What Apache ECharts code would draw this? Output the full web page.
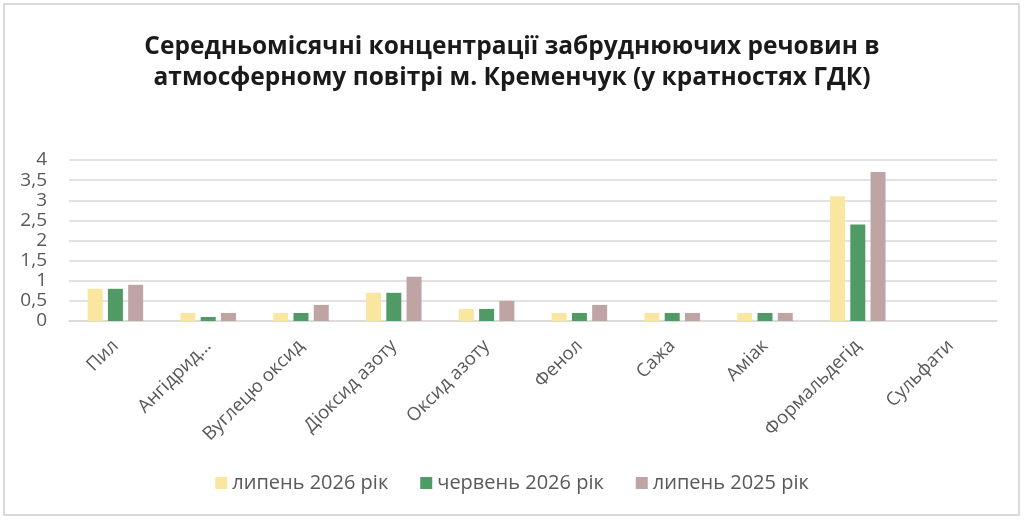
<!DOCTYPE html>
<html>
<head>
<meta charset="utf-8">
<script src="https://cdn.jsdelivr.net/npm/echarts@6/dist/echarts.min.js"></script>
<style>
  html, body { margin: 0; padding: 0; background: #fff; }
  #chart { width: 1024px; height: 520px; }
</style>
</head>
<body>
<div id="chart"></div>
<script>
// categories (pollutants)
var categories = ['Пил', 'Ангідрид…', 'Вуглецю оксид', 'Діоксид азоту', 'Оксид азоту',
  'Фенол', 'Сажа', 'Аміак', 'Формальдегід', 'Сульфати'];

// values in multiples of MPC
var july2026 = [0.8, 0.2, 0.2, 0.7, 0.3, 0.2, 0.2, 0.2, 3.1, 0];
var june2026 = [0.8, 0.1, 0.2, 0.7, 0.3, 0.2, 0.2, 0.2, 2.4, 0];
var july2025 = [0.9, 0.2, 0.4, 1.1, 0.5, 0.4, 0.2, 0.2, 3.7, 0];

var seriesNames = ['липень 2026 рік', 'червень 2026 рік', 'липень 2025 рік'];
var yTicks = ['0', '0,5', '1', '1,5', '2', '2,5', '3', '3,5', '4'];

var chart = echarts.init(document.getElementById('chart'));

function bar(name, data, color) {
  return {
    name: name,
    type: 'bar',
    data: data,
    barWidth: 15,
    barGap: '35%',
    itemStyle: { color: color }
  };
}

var option = {
  backgroundColor: '#fff',
  textStyle: { fontFamily: 'Open Sans' },
  title: {
    text: 'Середньомісячні концентрації забруднюючих речовин в\nатмосферному повітрі м. Кременчук (у кратностях ГДК)',
    left: 'center',
    top: 27,
    textStyle: {
      fontFamily: 'Open Sans',
      fontWeight: 'bold',
      fontSize: 24.5,
      lineHeight: 31,
      color: '#1a1a1a'
    }
  },
  graphic: [{
    type: 'rect',
    shape: { x: 4, y: 4, width: 1015, height: 511 },
    style: { fill: 'none', stroke: '#d9d9d9', lineWidth: 2 },
    silent: true
  }],
  legend: {
    data: seriesNames,
    bottom: 22,
    left: 'center',
    itemWidth: 12,
    itemHeight: 12,
    itemGap: 32,
    icon: 'rect',
    textStyle: { fontSize: 20, color: '#595959', fontFamily: 'Open Sans' }
  },
  grid: {
    left: 69,
    right: 27,
    top: 160,
    bottom: 199,
    containLabel: false
  },
  xAxis: {
    type: 'category',
    data: categories,
    axisLine: { lineStyle: { color: '#d9d9d9', width: 1.5 } },
    axisTick: { show: false },
    axisLabel: {
      rotate: 45,
      interval: 0,
      margin: 22,
      fontSize: 18.5,
      color: '#595959'
    }
  },
  yAxis: {
    type: 'value',
    min: 0,
    max: 4,
    interval: 0.5,
    axisLine: { show: false },
    axisTick: { show: false },
    splitLine: { lineStyle: { color: '#d9d9d9', width: 1.5 } },
    axisLabel: {
      margin: 22,
      fontSize: 19,
      color: '#595959',
      formatter: function (v) {
        return yTicks[Math.round(v / 0.5)];
      }
    }
  },
  series: [
    bar(seriesNames[0], july2026, '#f9e79f'),
    bar(seriesNames[1], june2026, '#4f9a65'),
    bar(seriesNames[2], july2025, '#bfa4a4')
  ]
};

chart.setOption(option);
</script>
</body>
</html>
